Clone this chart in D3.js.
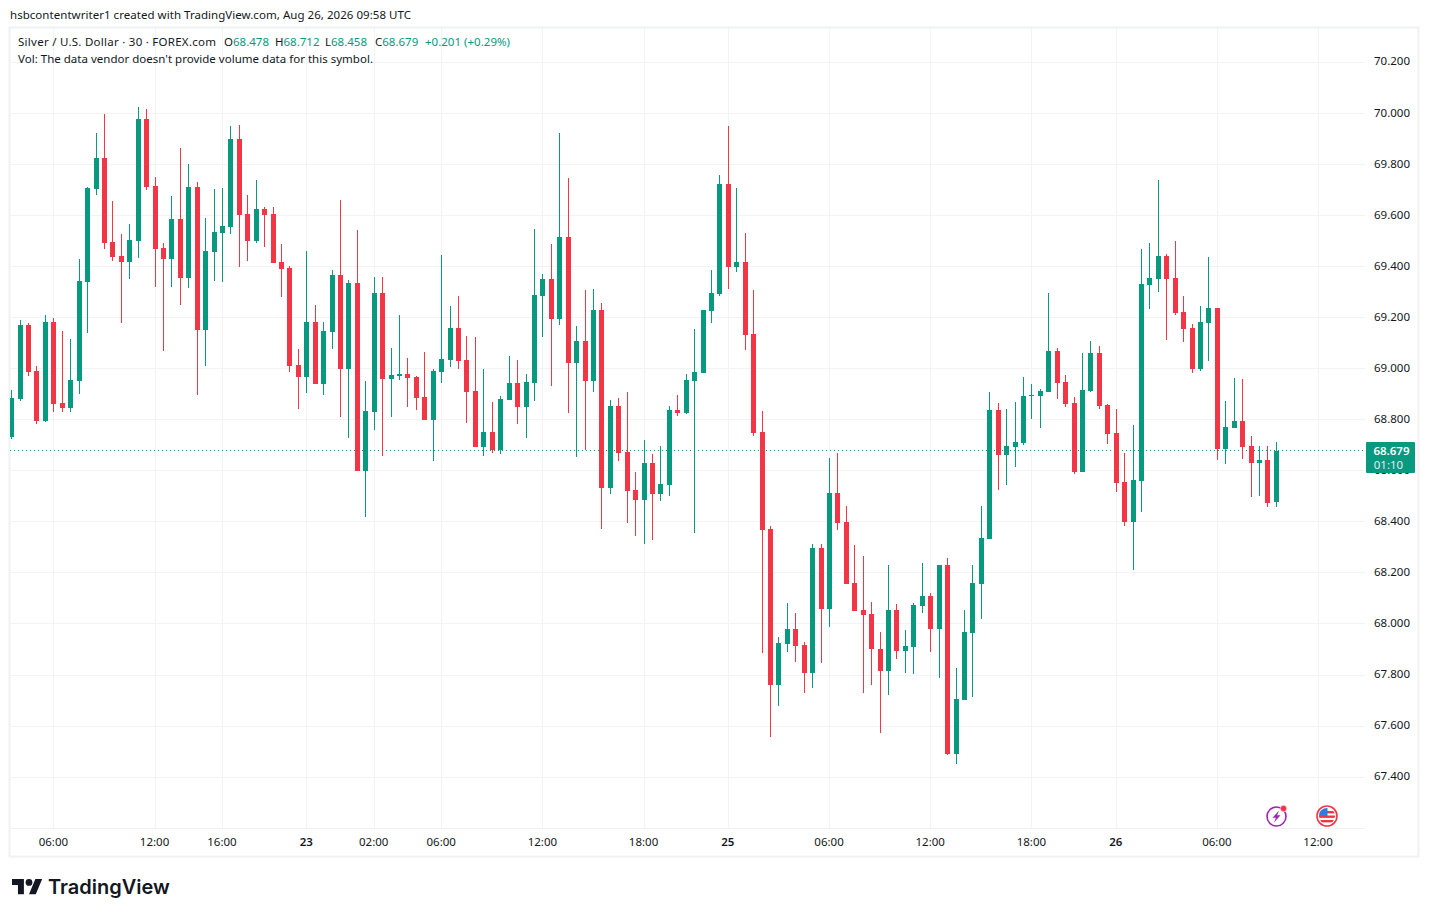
<!DOCTYPE html>
<html>
<head>
<meta charset="utf-8">
<style>
  html, body { margin: 0; padding: 0; background: #fff; overflow: hidden; }
  text { font-family: "Noto Sans", sans-serif; font-size: 11.5px; fill: #131722; }
  .axis text { fill: #131722; }
  .axis .domain { display: none; }
  .axis .tick line { display: none; }
</style>
</head>
<body>
<div id="chart"></div>
<script src="https://cdn.jsdelivr.net/npm/d3@7"></script>
<script>
// 30 minute silver candles
let opens = [
  68.732, 68.881, 69.171, 68.991, 68.795, 69.183, 68.866, 68.846, 68.952, 69.339,
  69.704, 69.825, 69.496, 69.441, 69.418, 69.500, 69.978, 69.715, 69.473, 69.430,
  69.586, 69.355, 69.711, 69.151, 69.457, 69.531, 69.555, 69.899, 69.606, 69.500,
  69.625, 69.606, 69.418, 69.394, 69.014, 68.967, 69.183, 68.939, 69.143, 69.366,
  68.998, 69.335, 68.599, 68.830, 69.296, 68.959, 68.971, 68.979, 68.967, 68.889,
  68.798, 68.986, 69.033, 69.159, 69.033, 68.912, 68.693, 68.751, 68.681, 68.877,
  68.943, 68.849, 68.943, 69.284, 69.351, 69.194, 69.515, 69.022, 69.108, 68.951,
  69.230, 68.532, 68.854, 68.673, 68.525, 68.485, 68.630, 68.509, 68.544, 68.838,
  68.826, 68.951, 68.983, 69.226, 69.292, 69.723, 69.398, 69.417, 69.136, 68.752,
  68.374, 67.763, 67.920, 67.979, 67.916, 67.810, 68.296, 68.057, 68.515, 68.398,
  68.159, 68.053, 68.038, 67.904, 67.814, 68.053, 67.893, 67.908, 68.069, 68.108,
  67.979, 68.230, 67.489, 67.701, 67.963, 68.155, 68.332, 68.838, 68.661, 68.693,
  68.708, 68.892, 68.892, 68.908, 69.069, 68.947, 68.865, 68.595, 68.912, 69.061,
  68.857, 68.748, 68.556, 68.399, 68.560, 69.327, 69.351, 69.441, 69.355, 69.221,
  69.159, 68.998, 69.178, 69.237, 68.685, 68.767, 68.795, 68.697, 68.630, 68.642,
  68.478
]
let highs = [
  68.916, 69.191, 69.179, 69.010, 69.210, 69.198, 69.148, 69.116, 69.430, 69.711,
  69.923, 69.997, 69.657, 69.527, 69.567, 70.025, 70.017, 69.751, 69.492, 69.676,
  69.864, 69.802, 69.731, 69.590, 69.704, 69.708, 69.950, 69.954, 69.680, 69.739,
  69.633, 69.633, 69.488, 69.402, 69.077, 69.461, 69.249, 69.182, 69.386, 69.660,
  69.347, 69.543, 68.951, 69.358, 69.358, 69.080, 69.210, 69.041, 68.971, 69.065,
  68.998, 69.445, 69.245, 69.284, 69.127, 69.123, 68.998, 68.869, 68.892, 69.049,
  69.033, 68.979, 69.546, 69.370, 69.488, 69.923, 69.746, 69.167, 69.308, 69.311,
  69.257, 68.877, 68.885, 68.908, 68.595, 68.720, 68.666, 68.697, 68.854, 68.897,
  68.979, 69.155, 69.230, 69.386, 69.758, 69.950, 69.707, 69.531, 69.308, 68.834,
  68.382, 67.948, 68.081, 68.045, 67.928, 68.312, 68.312, 68.649, 68.668, 68.464,
  68.308, 68.265, 68.085, 67.967, 68.233, 68.077, 67.975, 68.081, 68.237, 68.120,
  68.233, 68.257, 67.826, 68.053, 68.230, 68.464, 68.908, 68.865, 68.842, 68.869,
  68.967, 68.939, 68.920, 69.296, 69.080, 68.975, 68.889, 69.061, 69.108, 69.088,
  68.861, 68.842, 68.669, 68.779, 69.468, 69.492, 69.738, 69.449, 69.499, 69.284,
  69.174, 69.245, 69.437, 69.237, 68.873, 68.963, 68.959, 68.736, 68.697, 68.697,
  68.712
]
let lows = [
  68.724, 68.873, 68.971, 68.783, 68.790, 68.830, 68.830, 68.830, 68.901, 69.140,
  69.680, 69.469, 69.422, 69.179, 69.351, 69.433, 69.700, 69.320, 69.069, 69.320,
  69.249, 69.316, 68.897, 69.010, 69.343, 69.339, 69.527, 69.398, 69.422, 69.492,
  69.477, 69.414, 69.281, 68.987, 68.841, 68.905, 68.939, 68.896, 69.076, 68.810,
  68.728, 68.599, 68.419, 68.759, 68.657, 68.810, 68.955, 68.849, 68.838, 68.798,
  68.638, 68.943, 69.006, 68.998, 68.787, 68.693, 68.657, 68.669, 68.665, 68.877,
  68.783, 68.728, 68.873, 69.123, 68.932, 69.170, 68.826, 68.654, 68.681, 68.908,
  68.372, 68.509, 68.638, 68.395, 68.344, 68.313, 68.329, 68.481, 68.501, 68.814,
  68.822, 68.356, 68.983, 69.179, 69.284, 69.312, 69.378, 69.073, 68.736, 67.885,
  67.556, 67.677, 67.889, 67.850, 67.728, 67.748, 67.846, 67.987, 68.370, 68.155,
  68.049, 67.728, 67.763, 67.575, 67.720, 67.861, 67.807, 67.803, 68.042, 67.889,
  67.787, 67.485, 67.450, 67.701, 67.716, 68.018, 68.332, 68.524, 68.544, 68.614,
  68.701, 68.802, 68.767, 68.908, 68.881, 68.849, 68.587, 68.595, 68.908, 68.842,
  68.704, 68.516, 68.383, 68.211, 68.438, 69.233, 69.300, 69.112, 69.210, 69.104,
  68.983, 68.990, 69.030, 68.642, 68.626, 68.767, 68.646, 68.497, 68.501, 68.458,
  68.458
]
let closes = [
  68.885, 69.171, 68.987, 68.795, 69.183, 68.862, 68.846, 68.956, 69.343, 69.708,
  69.825, 69.492, 69.437, 69.418, 69.504, 69.978, 69.711, 69.469, 69.430, 69.586,
  69.355, 69.711, 69.151, 69.461, 69.535, 69.559, 69.899, 69.602, 69.500, 69.625,
  69.602, 69.414, 69.390, 69.010, 68.967, 69.183, 68.939, 69.147, 69.366, 68.998,
  69.335, 68.599, 68.834, 69.296, 68.959, 68.975, 68.979, 68.963, 68.885, 68.798,
  68.990, 69.037, 69.159, 69.029, 68.908, 68.693, 68.751, 68.681, 68.881, 68.943,
  68.849, 68.947, 69.288, 69.351, 69.194, 69.515, 69.022, 69.108, 68.951, 69.229,
  68.532, 68.854, 68.669, 68.521, 68.485, 68.630, 68.509, 68.548, 68.838, 68.826,
  68.955, 68.987, 69.230, 69.296, 69.723, 69.398, 69.417, 69.132, 68.748, 68.370,
  67.763, 67.924, 67.979, 67.912, 67.810, 68.296, 68.057, 68.515, 68.394, 68.155,
  68.049, 68.034, 67.901, 67.814, 68.053, 67.893, 67.912, 68.073, 68.108, 67.979,
  68.230, 67.489, 67.705, 67.967, 68.159, 68.335, 68.838, 68.661, 68.697, 68.712,
  68.892, 68.896, 68.912, 69.069, 68.943, 68.861, 68.595, 68.916, 69.061, 68.853,
  68.744, 68.552, 68.399, 68.563, 69.331, 69.355, 69.441, 69.351, 69.217, 69.155,
  68.998, 69.182, 69.237, 68.685, 68.771, 68.795, 68.693, 68.630, 68.642, 68.473,
  68.679
]

let priceTicks = [70.2, 70, 69.8, 69.6, 69.4, 69.2, 69, 68.8, 68.6, 68.4, 68.2, 68, 67.8, 67.6, 67.4]
// bar number -> label on the time axis
let timeTickBars = [5, 17, 25, 35, 43, 51, 63, 75, 85, 97, 109, 121, 131, 143, 155]
let timeTickLabels = ['06:00', '12:00', '16:00', '23', '02:00', '06:00', '12:00', '18:00', '25', '06:00', '12:00', '18:00', '26', '06:00', '12:00']
let dayLabels = ['23', '25', '26']

let lastPrice = 68.679
let countdown = '01:10'

let up = '#089981'
let down = '#F23645'
let gridColor = '#f2f3f5'
let borderColor = '#f0f1f3'

let width = 1429
let height = 917
let pane = { left: 10, right: 1365, top: 28, bottom: 828 }

let svg = d3
  .select('#chart')
  .append('svg')
  .attr('width', width)
  .attr('height', height)
  .style('display', 'block')

let x = d3.scaleLinear().domain([0, 150]).range([11.7, 1276.4])
let y = d3.scaleLinear().domain([70, 67.4]).range([113.33, 777.2])

// snap to whole pixels, candles look crisp that way
let px = d => Math.floor(x(d))
let py = d => Math.round(y(d))

// outer frame
svg
  .append('rect')
  .attr('x', 9.5)
  .attr('y', 27.5)
  .attr('width', 1409)
  .attr('height', 829)
  .attr('fill', 'none')
  .attr('stroke', borderColor)
  .attr('stroke-width', 2)

svg
  .append('clipPath')
  .attr('id', 'pane')
  .append('rect')
  .attr('x', pane.left)
  .attr('y', pane.top)
  .attr('width', pane.right - pane.left)
  .attr('height', pane.bottom - pane.top)

let plot = svg.append('g').attr('clip-path', 'url(#pane)')

// grid
plot
  .selectAll('.hgrid')
  .data(priceTicks)
  .enter()
  .append('rect')
  .attr('class', 'hgrid')
  .attr('x', pane.left)
  .attr('y', d => Math.floor(y(d)))
  .attr('width', pane.right - pane.left)
  .attr('height', 1)
  .attr('fill', gridColor)

plot
  .selectAll('.vgrid')
  .data(timeTickBars)
  .enter()
  .append('rect')
  .attr('class', 'vgrid')
  .attr('x', d => px(d))
  .attr('y', pane.top)
  .attr('width', 1)
  .attr('height', pane.bottom - pane.top)
  .attr('fill', gridColor)

// axis line at the foot of the pane
svg
  .append('rect')
  .attr('x', pane.left)
  .attr('y', pane.bottom)
  .attr('width', pane.right - pane.left)
  .attr('height', 1)
  .attr('fill', borderColor)

// last price line
plot
  .append('line')
  .attr('x1', pane.left)
  .attr('x2', pane.right)
  .attr('y1', Math.floor(y(lastPrice)) + 0.5)
  .attr('y2', Math.floor(y(lastPrice)) + 0.5)
  .attr('stroke', up)
  .attr('stroke-width', 1)
  .attr('stroke-dasharray', '1,3')

// candles
let candles = plot
  .selectAll('.candle')
  .data(d3.range(opens.length))
  .enter()
  .append('g')
  .attr('class', 'candle')
  .attr('fill', i => (closes[i] >= opens[i] ? up : down))
  .attr('shape-rendering', 'crispEdges')

candles
  .append('rect')
  .attr('x', i => px(i))
  .attr('y', i => py(highs[i]))
  .attr('width', 1)
  .attr('height', i => Math.max(1, py(lows[i]) - py(highs[i])))

candles
  .append('rect')
  .attr('x', i => px(i) - 2)
  .attr('y', i => py(Math.max(opens[i], closes[i])))
  .attr('width', 5)
  .attr('height', i => Math.max(1, py(Math.min(opens[i], closes[i])) - py(Math.max(opens[i], closes[i]))))

// axes
let priceAxis = d3
  .axisRight(y)
  .tickValues(priceTicks)
  .tickFormat(d3.format('.3f'))
  .tickSize(0)
  .tickPadding(0)

svg
  .append('g')
  .attr('class', 'axis')
  .attr('transform', 'translate(1374,-1)')
  .call(priceAxis)
  .selectAll('text')
  .style('font-family', '"Noto Sans", sans-serif')
  .style('font-size', '11.5px')

let timeAxis = d3
  .axisBottom(x)
  .tickValues(timeTickBars)
  .tickFormat(d => timeTickLabels[timeTickBars.indexOf(d)])
  .tickSize(0)
  .tickPadding(0)

svg
  .append('g')
  .attr('class', 'axis')
  .attr('transform', 'translate(-1,838)')
  .call(timeAxis)
  .selectAll('text')
  .style('font-family', '"Noto Sans", sans-serif')
  .style('font-size', '11.5px')
  .style('font-weight', d => (dayLabels.includes(timeTickLabels[timeTickBars.indexOf(d)]) ? 600 : 400))

// last price label
svg
  .append('rect')
  .attr('x', 1366)
  .attr('y', 442)
  .attr('width', 49)
  .attr('height', 31)
  .attr('rx', 1)
  .attr('fill', up)

svg
  .append('text')
  .attr('x', 1391.5)
  .attr('y', 455)
  .attr('text-anchor', 'middle')
  .style('fill', '#fff')
  .style('font-weight', 600)
  .text(d3.format('.3f')(lastPrice))

svg
  .append('text')
  .attr('x', 1388.5)
  .attr('y', 469)
  .attr('text-anchor', 'middle')
  .style('fill', '#fff')
  .style('opacity', 0.85)
  .text(countdown)

// header and legend
svg.append('text').attr('x', 10).attr('y', 19).attr('textLength', 401).text('hsbcontentwriter1 created with TradingView.com, Aug 26, 2026 09:58 UTC')
svg.append('text').attr('x', 18).attr('y', 46).attr('textLength', 198).text('Silver / U.S. Dollar · 30 · FOREX.com')
svg.append('text').attr('x', 18).attr('y', 63).attr('textLength', 355).text("Vol: The data vendor doesn't provide volume data for this symbol.")

let legendKeys = [['O', 224], ['H', 275], ['L', 325], ['C', 375]]
let legendVals = [68.478, 68.712, 68.458, 68.679]
legendKeys.forEach((k, i) => {
  let t = svg.append('text').attr('x', k[1]).attr('y', 46)
  t.append('tspan').text(k[0])
  t.append('tspan').style('fill', up).text(d3.format('.3f')(legendVals[i]))
})
svg.append('text').attr('x', 425).attr('y', 46).attr('textLength', 85).style('fill', up).text('+0.201 (+0.29%)')

// the two event badges
let bolt = svg.append('g').attr('transform', 'translate(1276.5,816.5)')
bolt.append('circle').attr('r', 9.5).attr('fill', '#fff').attr('stroke', '#9c27b0').attr('stroke-width', 1.6)
bolt.append('path').attr('d', 'M2.5,-6 L-4,1.2 L-0.6,1.2 L-2.5,6 L4,-1.2 L0.6,-1.2 Z').attr('fill', '#9c27b0')
bolt.append('circle').attr('cx', 7).attr('cy', -8).attr('r', 3.2).attr('fill', '#f7304a').attr('stroke', '#fff').attr('stroke-width', 0.6)

let flag = svg.append('g').attr('transform', 'translate(1327,816)')
svg.append('clipPath').attr('id', 'flagclip').append('circle').attr('r', 8)
flag.append('circle').attr('r', 10).attr('fill', '#fff').attr('stroke', '#f23645').attr('stroke-width', 1.6)
let flagInner = flag.append('g').attr('clip-path', 'url(#flagclip)')
flagInner.append('rect').attr('x', -8).attr('y', -8).attr('width', 16).attr('height', 16).attr('fill', '#fff')
d3.range(3).forEach(i => {
  flagInner.append('rect').attr('x', -8).attr('y', -5 + i * 4.5).attr('width', 16).attr('height', 2.4).attr('fill', '#f23645')
})
flagInner.append('rect').attr('x', -8).attr('y', -8).attr('width', 8.5).attr('height', 8).attr('fill', '#2a7de1')

// logo
let logo = svg.append('g').attr('transform', 'translate(12,875.6) scale(0.85)').attr('fill', '#131722')
logo.append('path').attr('d', 'M14 22H7V11H0V4h14v18zM28 22h-8l7.5-18h8L28 22z')
logo.append('circle').attr('cx', 20).attr('cy', 8).attr('r', 4)

svg
  .append('text')
  .attr('x', 48)
  .attr('y', 894)
  .style('font-family', 'Inter, sans-serif')
  .style('font-size', '20px')
  .style('font-weight', 600)
  .text('TradingView')
</script>
</body>
</html>
